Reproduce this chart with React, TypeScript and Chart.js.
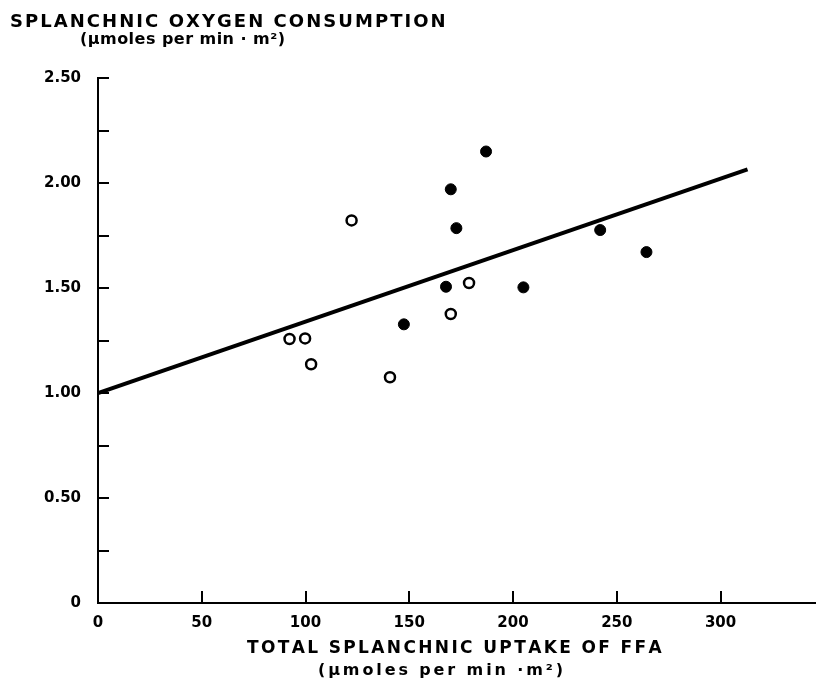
import React, { useEffect, useRef } from "react";
import { Chart, registerables } from "chart.js";

Chart.register(...registerables);

// Filled circles
const filledX = [187, 170, 172.7, 242, 264.3, 167.7, 205, 147.4];
const filledY = [2.15, 1.97, 1.785, 1.776, 1.671, 1.506, 1.503, 1.327];
// Open circles
const openX = [122.2, 178.8, 170, 92.3, 99.8, 102.7, 140.7];
const openY = [1.822, 1.524, 1.376, 1.257, 1.26, 1.137, 1.075];
// Regression line end points
const lineX = [0, 313];
const lineY = [1.0, 2.065];

const xTicks = [0, 50, 100, 150, 200, 250, 300];
const yTicks = [0, 0.25, 0.5, 0.75, 1.0, 1.25, 1.5, 1.75, 2.0, 2.25, 2.5];
const yLabels = ["0", "", "0.50", "", "1.00", "", "1.50", "", "2.00", "", "2.50"];

const yTitle = ["SPLANCHNIC OXYGEN CONSUMPTION", "(\u03bcmoles per min \u00b7 m\u00b2)"];
const xTitle = ["TOTAL SPLANCHNIC UPTAKE OF FFA", "(\u03bcmoles per min \u00b7m\u00b2)"];

const FONT = "'DejaVu Sans', sans-serif";

function drawSpaced(ctx: CanvasRenderingContext2D, text: string, x: number, y: number, width: number) {
  ctx.save();
  (ctx as any).letterSpacing = "0px";
  const w = ctx.measureText(text).width;
  const n = text.length;
  const sp = n > 1 ? (width - w) / (n - 1) : 0;
  let cx = x;
  ctx.textAlign = "left";
  for (const ch of text) {
    ctx.fillText(ch, cx, y);
    cx += ctx.measureText(ch).width + sp;
  }
  ctx.restore();
}

const decorPlugin = {
  id: "decor",
  afterDraw(chart: any) {
    const ctx: CanvasRenderingContext2D = chart.ctx;
    const xs = chart.scales.x;
    const ys = chart.scales.y;
    const area = chart.chartArea;
    ctx.save();
    ctx.strokeStyle = "#000";
    ctx.lineWidth = 2;
    yTicks.forEach((v) => {
      if (v === 0) return;
      const py = Math.round(ys.getPixelForValue(v));
      ctx.beginPath();
      ctx.moveTo(area.left, py);
      ctx.lineTo(area.left + 11, py);
      ctx.stroke();
    });
    xTicks.forEach((v) => {
      if (v === 0) return;
      const px = Math.round(xs.getPixelForValue(v));
      ctx.beginPath();
      ctx.moveTo(px, area.bottom);
      ctx.lineTo(px, area.bottom - 12);
      ctx.stroke();
    });
    ctx.fillStyle = "#000";
    ctx.textBaseline = "middle";
    ctx.font = `bold 18px ${FONT}`;
    drawSpaced(ctx, yTitle[0], 10, 22, 435);
    ctx.font = `bold 16px ${FONT}`;
    drawSpaced(ctx, yTitle[1], 80, 40, 205);
    ctx.font = `bold 17px ${FONT}`;
    drawSpaced(ctx, xTitle[0], 247, 649, 410);
    ctx.font = `bold 16px ${FONT}`;
    drawSpaced(ctx, xTitle[1], 318, 671, 245);
    ctx.restore();
  },
};

export default function App() {
  const ref = useRef<HTMLCanvasElement | null>(null);
  useEffect(() => {
    if (!ref.current) return;
    const chart = new Chart(ref.current, {
      type: "scatter",
      data: {
        datasets: [
          {
            type: "line",
            label: "fit",
            data: lineX.map((x, i) => ({ x, y: lineY[i] })),
            borderColor: "#000",
            borderWidth: 4,
            pointRadius: 0,
            fill: false,
          } as any,
          {
            label: "filled",
            data: filledX.map((x, i) => ({ x, y: filledY[i] })),
            backgroundColor: "#000",
            borderColor: "#000",
            borderWidth: 1,
            pointRadius: 5.5,
          },
          {
            label: "open",
            data: openX.map((x, i) => ({ x, y: openY[i] })),
            backgroundColor: "#fff",
            borderColor: "#000",
            borderWidth: 2.5,
            pointRadius: 5,
          },
        ],
      },
      options: {
        responsive: false,
        animation: false,
        layout: { autoPadding: false, padding: { left: 0, right: 0, top: 78, bottom: 0 } },
        plugins: { legend: { display: false }, tooltip: { enabled: false } },
        scales: {
          x: {
            type: "linear",
            min: 0,
            max: 346,
            afterFit: (s: any) => {
              s.height = 81;
              s.paddingRight = 0;
              s.paddingLeft = 0;
            },
            afterBuildTicks: (s: any) => {
              s.ticks = xTicks.map((v) => ({ value: v }));
            },
            grid: { display: false },
            border: { display: true, color: "#000", width: 2 },
            ticks: {
              color: "#000",
              padding: 3,
              font: { family: FONT, weight: "bold", size: 15 },
              maxRotation: 0,
              autoSkip: false,
              callback: (v: any) => String(v),
            },
          },
          y: {
            type: "linear",
            min: 0,
            max: 2.5,
            afterFit: (s: any) => {
              s.width = 98;
              s.paddingTop = 0;
              s.paddingBottom = 0;
            },
            afterBuildTicks: (s: any) => {
              s.ticks = yTicks.map((v) => ({ value: v }));
            },
            grid: { display: false },
            border: { display: true, color: "#000", width: 2 },
            ticks: {
              color: "#000",
              padding: 9,
              autoSkip: false,
              font: { family: FONT, weight: "bold", size: 15 },
              callback: (v: any) => {
                const i = yTicks.findIndex((t) => Math.abs(t - v) < 1e-6);
                return i >= 0 ? yLabels[i] : "";
              },
            },
          },
        },
      },
      plugins: [decorPlugin],
    });
    return () => chart.destroy();
  }, []);
  return (
    <div style={{ position: "absolute", left: 0, top: 0, width: 816, height: 684, background: "#fff" }}>
      <canvas ref={ref} width={816} height={684} />
    </div>
  );
}
